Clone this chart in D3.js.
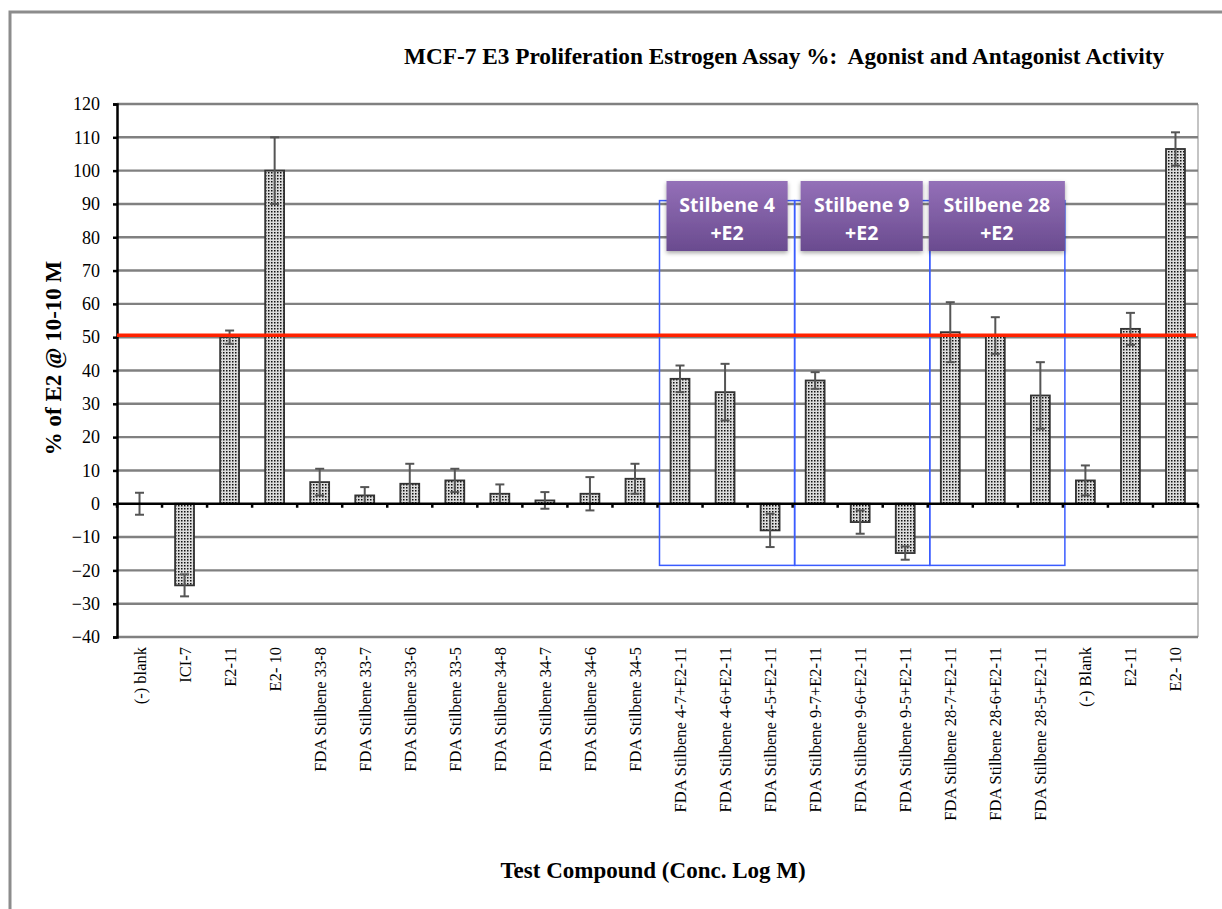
<!DOCTYPE html>
<head>
    <meta charset="utf-8">
    <script src="https://d3js.org/d3.v7.min.js"></script>
    <style>
        body { margin: 0; background: #fff; }
        .grid line { stroke: #808080; stroke-width: 2.4px; }
        .ylab text, .xlab text { font-family: "Liberation Serif", "Times New Roman", serif; fill: #000; }
    </style>
</head>
<body>
    <svg width="1222" height="909"></svg>
    <script>
        var categories = ["(-) blank", "ICI-7", "E2-11", "E2- 10",
            "FDA Stilbene 33-8", "FDA Stilbene 33-7", "FDA Stilbene 33-6", "FDA Stilbene 33-5",
            "FDA Stilbene 34-8", "FDA Stilbene 34-7", "FDA Stilbene 34-6", "FDA Stilbene 34-5",
            "FDA Stilbene 4-7+E2-11", "FDA Stilbene 4-6+E2-11", "FDA Stilbene 4-5+E2-11",
            "FDA Stilbene 9-7+E2-11", "FDA Stilbene 9-6+E2-11", "FDA Stilbene 9-5+E2-11",
            "FDA Stilbene 28-7+E2-11", "FDA Stilbene 28-6+E2-11", "FDA Stilbene 28-5+E2-11",
            "(-) Blank", "E2-11", "E2- 10"];
        var values = [0, -24.5, 50, 100, 6.5, 2.5, 6, 7, 3, 1, 3, 7.5,
            37.5, 33.5, -8, 37, -5.5, -14.8, 51.5, 50.5, 32.5, 7, 52.5, 106.5];
        var errors = [3.3, 3.3, 2, 10, 4, 2.5, 6, 3.5, 2.8, 2.5, 5, 4.5,
            4, 8.5, 5, 2.5, 3.5, 2, 9, 5.5, 10, 4.5, 4.8, 5];
        var yTicks = [120, 110, 100, 90, 80, 70, 60, 50, 40, 30, 20, 10, 0, -10, -20, -30, -40];
        var refLine = 50.6;
        var groupLabels = ["Stilbene 4", "Stilbene 9", "Stilbene 28"];
        var groupStart = [12, 15, 18];
        var groupEnd = [14, 17, 20];
        var groupTop = 91;
        var groupBottom = -18.5;

        var svg = d3.select("svg");
        var pLeft = 117, pRight = 1198, pTop = 104, pBottom = 637;

        var x = d3.scaleBand().domain(d3.range(categories.length)).range([pLeft, pRight]).paddingInner(0);
        var y = d3.scaleLinear().domain([-40, 120]).range([pBottom, pTop]);
        var bw = x.bandwidth() * 0.42;

        // dotted fill like the old Excel pattern
        var defs = svg.append("defs");
        var pat = defs.append("pattern").attr("id", "dots")
            .attr("patternUnits", "userSpaceOnUse").attr("width", 3).attr("height", 3);
        pat.append("rect").attr("width", 3).attr("height", 3).attr("fill", "#dcdcdc");
        pat.append("rect").attr("x", 1).attr("y", 1).attr("width", 1.5).attr("height", 1.5).attr("fill", "#111");

        var grad = defs.append("linearGradient").attr("id", "purp")
            .attr("x1", 0).attr("y1", 0).attr("x2", 0).attr("y2", 1);
        grad.append("stop").attr("offset", "0%").attr("stop-color", "#9470b8");
        grad.append("stop").attr("offset", "100%").attr("stop-color", "#6a4b8f");
        var shadow = defs.append("filter").attr("id", "shadow").attr("x", "-10%").attr("y", "-10%")
            .attr("width", "130%").attr("height", "140%");
        shadow.append("feDropShadow").attr("dx", 0).attr("dy", 2).attr("stdDeviation", 2)
            .attr("flood-color", "#000").attr("flood-opacity", 0.35);

        // outer frame
        svg.append("path").attr("d", "M10,912 L10,12 L1230,12")
            .attr("fill", "none").attr("stroke", "#8c8c8c").attr("stroke-width", 3);

        // title
        svg.append("text").attr("x", 784).attr("y", 64).attr("text-anchor", "middle")
            .style("font-family", "'Liberation Serif', serif").style("font-weight", "bold")
            .style("font-size", "23.3px").style("white-space", "pre")
            .text("MCF-7 E3 Proliferation Estrogen Assay %:  Agonist and Antagonist Activity");

        // plot right border
        svg.append("line").attr("x1", pRight).attr("x2", pRight).attr("y1", pTop).attr("y2", pBottom)
            .attr("stroke", "#c4c4c4").attr("stroke-width", 2);

        // horizontal grid
        svg.append("g").attr("class", "grid").selectAll("line")
            .data(yTicks.filter(d => d !== 0)).enter().append("line")
            .attr("x1", pLeft).attr("x2", pRight)
            .attr("y1", d => y(d)).attr("y2", d => y(d));

        // y axis
        var yAxis = svg.append("g").attr("class", "ylab")
            .attr("transform", "translate(" + pLeft + ",0)")
            .call(d3.axisLeft(y).tickValues(yTicks).tickSize(4).tickPadding(13));
        yAxis.select(".domain").attr("stroke", "#000").attr("stroke-width", 2.5);
        yAxis.selectAll(".tick line").attr("stroke", "#000").attr("stroke-width", 2.5);
        yAxis.selectAll("text").style("font-size", "18px");

        // blue group frames
        svg.append("g").selectAll("rect").data(groupStart).enter().append("rect")
            .attr("x", d => x(d) + 2)
            .attr("y", y(groupTop))
            .attr("width", (d, i) => x(groupEnd[i]) + x.bandwidth() - x(d))
            .attr("height", y(groupBottom) - y(groupTop))
            .attr("fill", "none").attr("stroke", "#3a5cff").attr("stroke-width", 1.5);

        // bars
        svg.append("g").selectAll("rect").data(values).enter().append("rect")
            .attr("x", (d, i) => x(i) + (x.bandwidth() - bw) / 2)
            .attr("y", d => y(Math.max(0, d)))
            .attr("width", bw)
            .attr("height", d => Math.abs(y(d) - y(0)))
            .attr("fill", "url(#dots)")
            .attr("stroke", "#333").attr("stroke-width", 1.8);

        // error bars
        var eb = svg.append("g").attr("stroke", "#555").attr("stroke-width", 2);
        values.forEach(function (v, i) {
            var cx = x(i) + x.bandwidth() / 2;
            eb.append("line").attr("x1", cx).attr("x2", cx)
                .attr("y1", y(v + errors[i])).attr("y2", y(v - errors[i]));
            [v + errors[i], v - errors[i]].forEach(function (e) {
                eb.append("line").attr("x1", cx - 4.5).attr("x2", cx + 4.5)
                    .attr("y1", y(e)).attr("y2", y(e));
            });
        });

        // zero axis with tick marks
        var xAxis = svg.append("g").attr("transform", "translate(0," + y(0) + ")");
        xAxis.append("line").attr("x1", pLeft).attr("x2", pRight)
            .attr("stroke", "#000").attr("stroke-width", 2.5);
        xAxis.selectAll(".tk").data(d3.range(categories.length + 1)).enter().append("line")
            .attr("x1", d => pLeft + d * x.step()).attr("x2", d => pLeft + d * x.step())
            .attr("y1", 0).attr("y2", 4)
            .attr("stroke", "#000").attr("stroke-width", 2.5);

        // reference line
        svg.append("line").attr("x1", pLeft).attr("x2", pRight - 2)
            .attr("y1", y(refLine)).attr("y2", y(refLine))
            .attr("stroke", "#ff2200").attr("stroke-width", 3.5);

        // purple labels
        var boxInsetL = [9, 8, 1], boxInsetR = [5, 5, -2];
        var lab = svg.append("g").selectAll("g").data(groupLabels).enter().append("g");
        lab.append("rect")
            .attr("x", (d, i) => x(groupStart[i]) + boxInsetL[i])
            .attr("y", 181)
            .attr("width", (d, i) => x(groupEnd[i]) + x.bandwidth() - boxInsetR[i] - x(groupStart[i]) - boxInsetL[i])
            .attr("height", 70)
            .attr("fill", "url(#purp)").attr("filter", "url(#shadow)");
        lab.append("text")
            .attr("x", (d, i) => (x(groupStart[i]) + boxInsetL[i] + x(groupEnd[i]) + x.bandwidth() - boxInsetR[i]) / 2)
            .attr("y", 212).attr("text-anchor", "middle")
            .style("font-family", "'Open Sans', sans-serif").style("font-weight", "bold")
            .style("font-size", "19.5px").attr("fill", "#fff")
            .text(d => d);
        lab.append("text")
            .attr("x", (d, i) => (x(groupStart[i]) + boxInsetL[i] + x(groupEnd[i]) + x.bandwidth() - boxInsetR[i]) / 2)
            .attr("y", 240).attr("text-anchor", "middle")
            .style("font-family", "'Open Sans', sans-serif").style("font-weight", "bold")
            .style("font-size", "19.5px").attr("fill", "#fff")
            .text("+E2");

        // category labels (rotated)
        svg.append("g").attr("class", "xlab").selectAll("text").data(categories).enter().append("text")
            .attr("transform", (d, i) => "translate(" + (x(i) + x.bandwidth() / 2 + 6) + ",647) rotate(-90)")
            .attr("text-anchor", "end")
            .style("font-size", "16.5px")
            .text(d => d);

        // axis titles
        svg.append("text").attr("transform", "translate(61,358) rotate(-90)")
            .attr("text-anchor", "middle")
            .style("font-family", "'Liberation Serif', serif").style("font-weight", "bold")
            .style("font-size", "23px")
            .text("% of E2 @ 10-10 M");
        svg.append("text").attr("x", 653).attr("y", 878).attr("text-anchor", "middle")
            .style("font-family", "'Liberation Serif', serif").style("font-weight", "bold")
            .style("font-size", "23px")
            .text("Test Compound (Conc. Log M)");
    </script>
</body>
